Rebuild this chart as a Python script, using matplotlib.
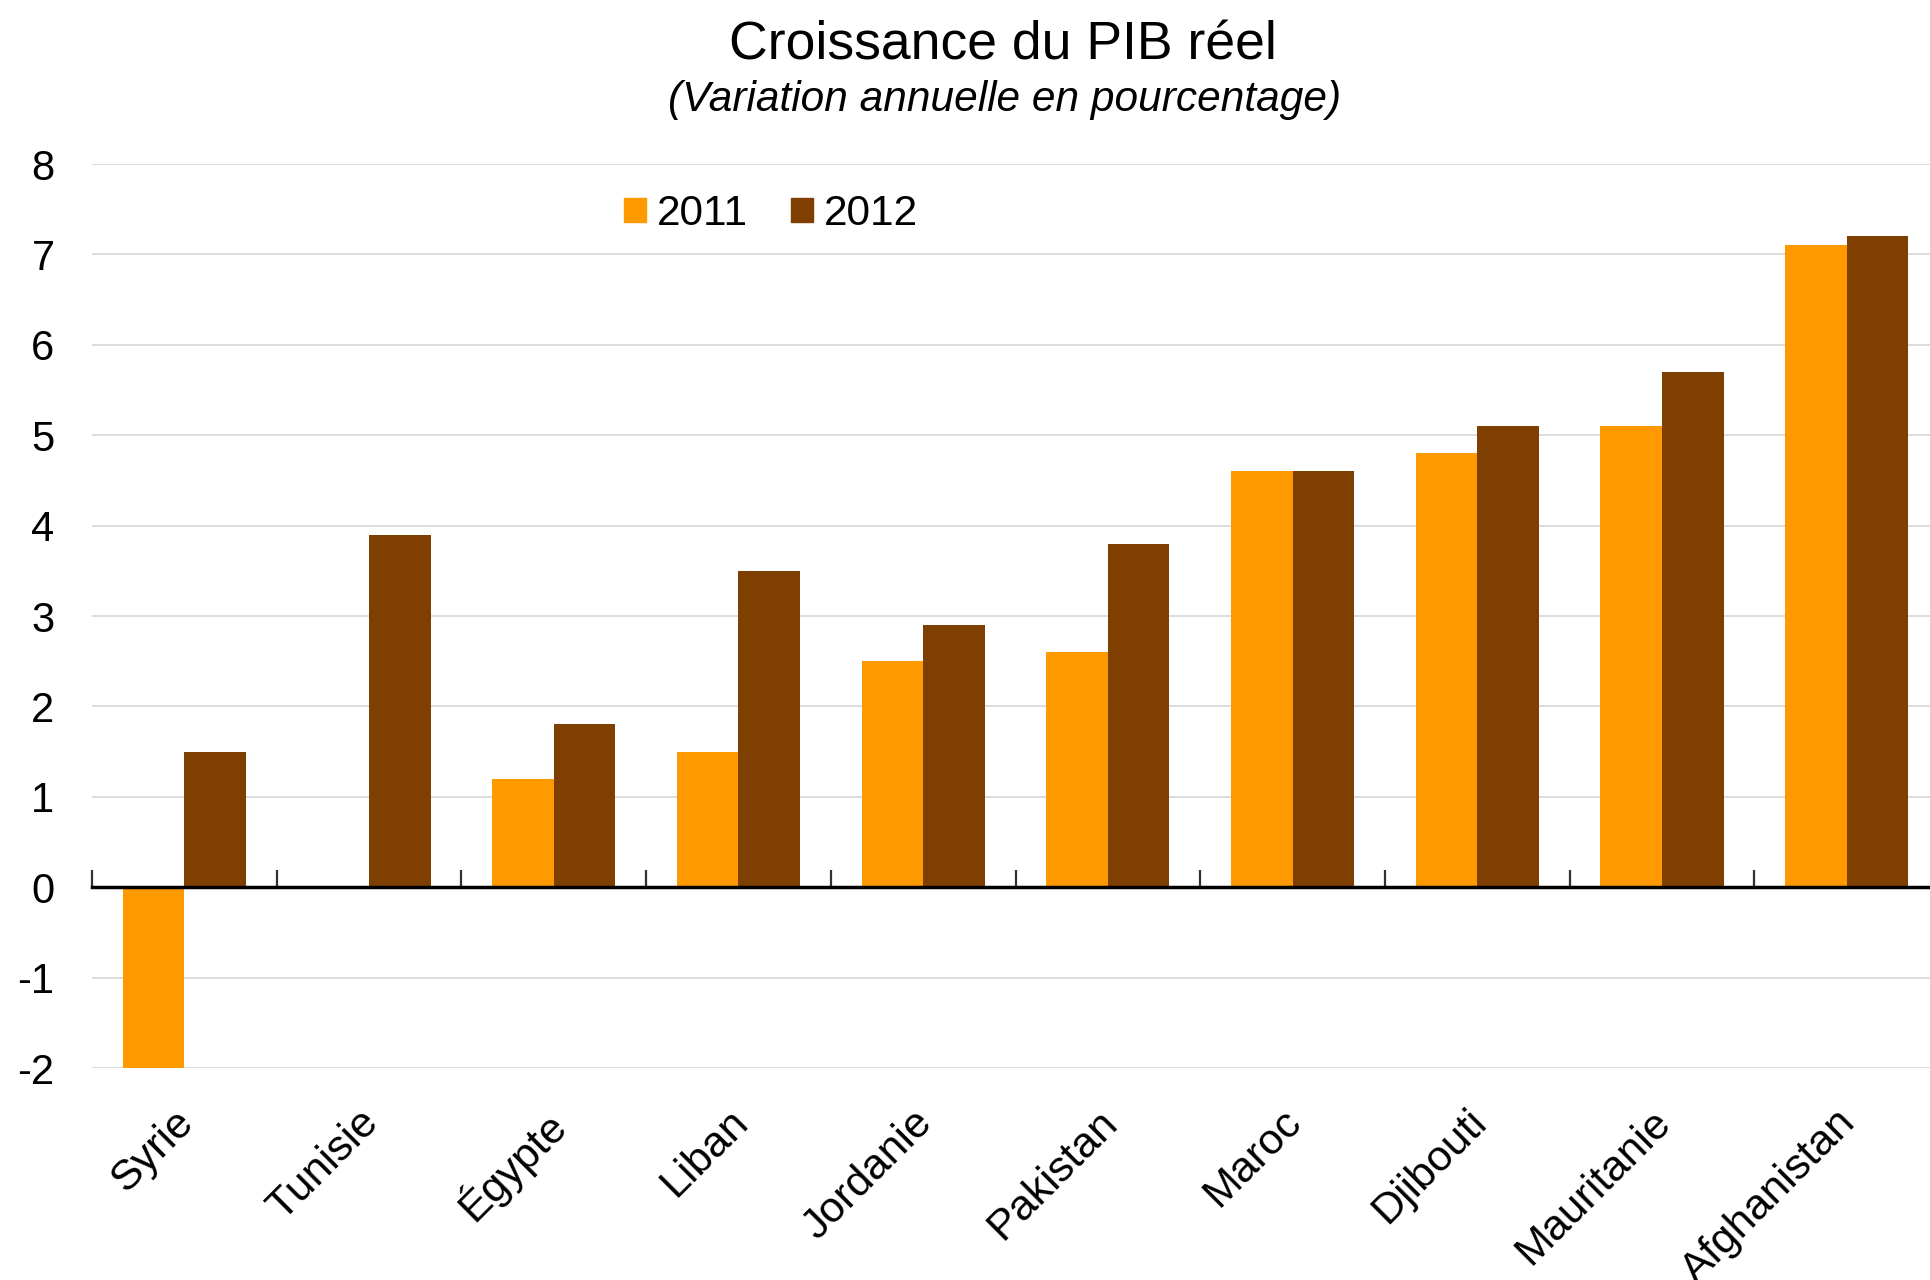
import matplotlib
matplotlib.use("Agg")
import matplotlib.pyplot as plt
import matplotlib.transforms as mtransforms
from matplotlib.patches import Patch
import numpy as np

plt.rcParams.update({"font.family": ["Liberation Sans", "DejaVu Sans"], "font.size": 30})

# data
countries = ["Syrie", "Tunisie", "Égypte", "Liban", "Jordanie", "Pakistan",
             "Maroc", "Djibouti", "Mauritanie", "Afghanistan"]
g2011 = [-2.0, 0.0, 1.2, 1.5, 2.5, 2.6, 4.6, 4.8, 5.1, 7.1]
g2012 = [1.5, 3.9, 1.8, 3.5, 2.9, 3.8, 4.6, 5.1, 5.7, 7.2]
years = ["2011", "2012"]
yticks = [-2, -1, 0, 1, 2, 3, 4, 5, 6, 7, 8]

ORANGE = "#FF9900"; BROWN = "#7F3F00"; GRID = "#D9D9D9"

W, H = 1930, 1280
fig = plt.figure(figsize=(W / 100, H / 100), dpi=100)
fig.patch.set_facecolor("white")
# plot area: x 92 -> 1939 px, y 164 (top, =8) -> 1068 (bottom, =-2)
ax = fig.add_axes([92 / W, (H - 1068) / H, 1847 / W, 904 / H])

x = np.arange(len(countries))
bw = 1 / 3
ax.bar(x - bw / 2, g2011, width=bw, color=ORANGE, lw=0, zorder=3)
ax.bar(x + bw / 2, g2012, width=bw, color=BROWN, lw=0, zorder=3)

ax.set_xlim(-0.5, len(countries) - 0.5)
ax.set_ylim(-2, 8)
ax.set_yticks(yticks)
ax.set_yticklabels([str(v) for v in yticks])
ax.tick_params(axis="y", length=0, pad=27, labelsize=30)
for v in yticks:
    if v != 0:
        ax.axhline(v, color=GRID, lw=1.3, zorder=1)

for s in ("top", "right", "left"):
    ax.spines[s].set_visible(False)
ax.spines["bottom"].set_position(("data", 0))
ax.spines["bottom"].set_linewidth(2.5)
ax.spines["bottom"].set_zorder(4)
ax.set_xticks(np.arange(len(countries) + 1) - 0.5)
ax.set_xticklabels([])
ax.tick_params(axis="x", direction="in", length=12, width=1.6, color="#333333")

off = mtransforms.offset_copy(ax.transData, fig=fig, x=-11, y=-34, units="dots")
for i, c in enumerate(countries):
    ax.text(i, -2, c, rotation=45, ha="right", va="top", rotation_mode="anchor",
            fontsize=31, transform=off)

fig.text(1003 / W, 1 - 59 / H, "Croissance du PIB réel", ha="center", va="baseline", fontsize=38.5)
fig.text(1005 / W, 1 - 111 / H, "(Variation annuelle en pourcentage)", ha="center",
         va="baseline", fontsize=30.5, style="italic")

handles = [Patch(color=ORANGE, label=years[0]), Patch(color=BROWN, label=years[1])]
fig.legend(handles=handles, loc="center left", bbox_to_anchor=(624 / W, 1 - 214 / H),
           ncol=2, frameon=False, fontsize=30.5, handlelength=0.52, handleheight=0.5,
           handletextpad=0.26, columnspacing=1.0, borderpad=0, borderaxespad=0)

fig.savefig("out.png", dpi=100, facecolor="white")
